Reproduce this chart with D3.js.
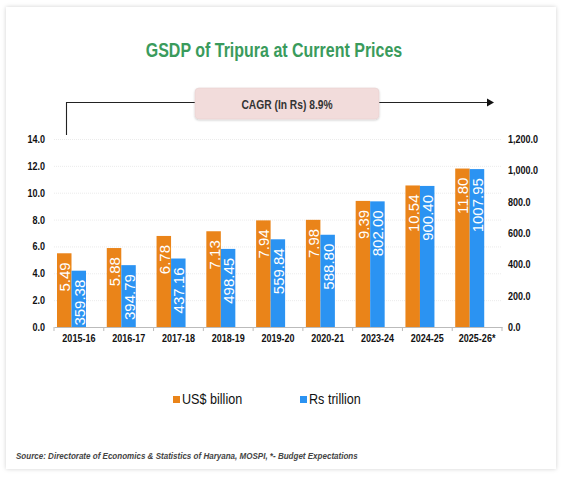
<!DOCTYPE html>
<html>
<head>
<meta charset="utf-8">
<script src="https://cdn.jsdelivr.net/npm/d3@7"></script>
<style>
  html, body { margin: 0; padding: 0; background: #fff; }
  svg { display: block; }
</style>
</head>
<body>
<svg id="chart" width="563" height="478"></svg>
<script>
// GSDP of Tripura, two series on twin axes

const years = ["2015-16", "2016-17", "2017-18", "2018-19", "2019-20", "2020-21", "2023-24", "2024-25", "2025-26*"];
const usdBillion = [5.49, 5.88, 6.78, 7.13, 7.94, 7.98, 9.39, 10.54, 11.80];
const rsTrillion = [359.38, 394.79, 437.16, 498.45, 559.84, 588.80, 802.00, 900.40, 1007.95];
const leftTicks = [0, 2, 4, 6, 8, 10, 12, 14];
const rightTicks = [0, 200, 400, 600, 800, 1000, 1200];
const seriesNames = ["US$ billion", "Rs trillion"];
const seriesColors = ["#EA8419", "#2B93F2"];
const titleText = "GSDP of Tripura at Current Prices";
const cagrText = "CAGR (In Rs) 8.9%";
const sourceText = "Source: Directorate of Economics & Statistics of Haryana, MOSPI, *- Budget Expectations";

const svg = d3.select("#chart");
const font = "'Liberation Sans', Arial, sans-serif";
const squeeze = "scale(0.82,1)"; // no narrow face installed, so squash Liberation Sans

// place a horizontally squeezed text at (px, py)
function narrowText(parent, px, py, sq) {
  return parent.append("g")
    .attr("transform", `translate(${px},${py})`)
    .append("text")
    .attr("transform", sq || squeeze)
    .style("font-family", font);
}

// card with soft shadow
const defs = svg.append("defs");
const sh = defs.append("filter").attr("id", "shadow")
  .attr("x", "-10%").attr("y", "-10%").attr("width", "120%").attr("height", "120%");
sh.append("feDropShadow").attr("dx", 0).attr("dy", 0).attr("stdDeviation", 2)
  .attr("flood-color", "#000").attr("flood-opacity", 0.18);
const sh2 = defs.append("filter").attr("id", "boxshadow")
  .attr("x", "-10%").attr("y", "-30%").attr("width", "120%").attr("height", "160%");
sh2.append("feDropShadow").attr("dx", 0).attr("dy", 1).attr("stdDeviation", 1.2)
  .attr("flood-color", "#000").attr("flood-opacity", 0.2);

svg.append("rect")
  .attr("x", 6).attr("y", 7).attr("width", 550).attr("height", 462)
  .attr("fill", "#fff").attr("filter", "url(#shadow)");

// scales
const x = d3.scaleBand().domain(years).range([54, 502]).padding(0);
const xSub = d3.scaleBand().domain(seriesNames).range([3, 32]);
const yLeft = d3.scaleLinear().domain([0, 14]).range([327, 139]);
const yRight = d3.scaleLinear().domain([0, 1200]).range([327, 139]);

// title
narrowText(svg, 274, 56.5)
  .attr("text-anchor", "middle")
  .style("font-weight", "bold").style("font-size", "19.5px")
  .attr("fill", "#3A9B5C")
  .text(titleText);

// CAGR annotation
svg.append("path")
  .attr("d", "M66.5,135 V102.5 H195 M379,102.5 H488")
  .attr("fill", "none").attr("stroke", "#222").attr("stroke-width", 1.1);
svg.append("path")
  .attr("d", "M487,98.5 L494,102.5 L487,106.5 Z")
  .attr("fill", "#111");
svg.append("rect")
  .attr("x", 195).attr("y", 88).attr("width", 184).attr("height", 31).attr("rx", 4)
  .attr("fill", "#F2DCDB").attr("stroke", "#e8d2d2").attr("stroke-width", 0.6)
  .attr("filter", "url(#boxshadow)");
narrowText(svg, 287, 108.5)
  .attr("text-anchor", "middle")
  .style("font-weight", "bold").style("font-size", "12.5px")
  .attr("fill", "#333")
  .text(cagrText);

// gridlines
svg.append("g").selectAll("line")
  .data(leftTicks.filter(d => d > 0))
  .join("line")
  .attr("x1", 54).attr("x2", 502)
  .attr("y1", d => yLeft(d) + 0.5).attr("y2", d => yLeft(d) + 0.5)
  .attr("stroke", "#e6e6e6").attr("stroke-width", 0.8).attr("stroke-dasharray", "1,1");

// left axis
const leftAxis = svg.append("g")
  .attr("transform", "translate(45,0)")
  .call(d3.axisLeft(yLeft).tickValues(leftTicks).tickFormat(d3.format(".1f")).tickSize(0).tickPadding(0));
leftAxis.select(".domain").remove();
leftAxis.selectAll("text")
  .attr("transform", squeeze)
  .style("font-family", font).style("font-weight", "bold").style("font-size", "11px")
  .attr("fill", "#111");

// right axis
const rightAxis = svg.append("g")
  .attr("transform", "translate(508,0)")
  .call(d3.axisRight(yRight).tickValues(rightTicks).tickFormat(d3.format(",.1f")).tickSize(0).tickPadding(0));
rightAxis.select(".domain").remove();
rightAxis.selectAll("text")
  .attr("transform", squeeze)
  .style("font-family", font).style("font-weight", "bold").style("font-size", "11px")
  .attr("fill", "#111");

// bars
const rows = years.map((yr, i) => ({ yr, vals: [
  { s: seriesNames[0], v: usdBillion[i], y: yLeft, c: seriesColors[0], t: usdBillion[i].toFixed(2) },
  { s: seriesNames[1], v: rsTrillion[i], y: yRight, c: seriesColors[1], t: rsTrillion[i].toFixed(2) }
]}));

const groups = svg.append("g").selectAll("g")
  .data(rows)
  .join("g")
  .attr("transform", d => `translate(${x(d.yr)},0)`);

groups.selectAll("rect")
  .data(d => d.vals)
  .join("rect")
  .attr("x", d => xSub(d.s))
  .attr("width", xSub.bandwidth())
  .attr("y", d => d.y(d.v))
  .attr("height", d => d.y(0) - d.y(d.v))
  .attr("fill", d => d.c);

groups.selectAll("text")
  .data(d => d.vals)
  .join("text")
  .attr("transform", d => `translate(${xSub(d.s) + xSub.bandwidth() / 2 + 0.5},${d.y(d.v) + 9}) rotate(-90)`)
  .attr("text-anchor", "end")
  .attr("dominant-baseline", "central")
  .style("font-family", font).style("font-size", "15px")
  .attr("fill", "#fff")
  .text(d => d.t);

// x axis
const xAxis = svg.append("g")
  .attr("transform", "translate(0,327)")
  .call(d3.axisBottom(x).tickSize(0).tickPadding(7));
xAxis.select(".domain").attr("stroke", "#bbb").attr("stroke-width", 1);
xAxis.selectAll("text")
  .attr("transform", squeeze)
  .style("font-family", font).style("font-weight", "bold").style("font-size", "11px")
  .attr("fill", "#111");
svg.append("g").selectAll("line")
  .data(years.concat(["end"]))
  .join("line")
  .attr("x1", d => d === "end" ? 502 : x(d)).attr("x2", d => d === "end" ? 502 : x(d))
  .attr("y1", 327).attr("y2", 331)
  .attr("stroke", "#bbb");

// legend
const legend = svg.append("g").selectAll("g")
  .data(seriesNames)
  .join("g")
  .attr("transform", (d, i) => `translate(${[173, 300][i]},396)`);
legend.append("rect")
  .attr("width", 7).attr("height", 7)
  .attr("fill", (d, i) => seriesColors[i]);
legend.append("text")
  .attr("transform", "translate(9,8) scale(0.84,1)")
  .style("font-family", font).style("font-size", "15px")
  .attr("fill", "#111")
  .text(d => d);

// source
narrowText(svg, 16, 458.5)
  .style("font-weight", "bold").style("font-style", "italic").style("font-size", "9.8px")
  .attr("fill", "#444")
  .text(sourceText);
</script>
</body>
</html>
